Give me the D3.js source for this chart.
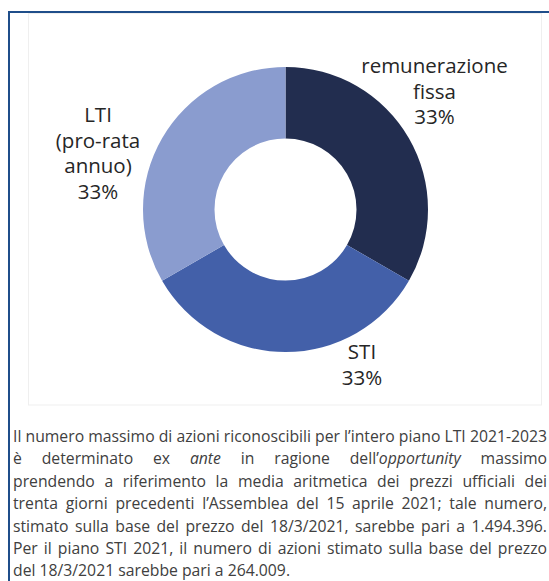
<!DOCTYPE html>
<html>
<head>
<meta charset="utf-8">
<script src="https://cdn.jsdelivr.net/npm/d3@7"></script>
<style>
  html, body { margin: 0; padding: 0; background: #fff; overflow: hidden; }
  svg { display: block; }
</style>
</head>
<body>
<div id="chart"></div>
<script>
// Composition of pay: three equal slices
const categories = ["remunerazione fissa", "STI", "LTI (pro-rata annuo)"];
const values = [33, 33, 33];
const labelLines = [["remunerazione", "fissa"], ["STI"], ["LTI", "(pro-rata", "annuo)"]];
const sliceColors = ["#222d4f", "#4360a9", "#8a9ccf"];

// Note under the chart, one entry per printed line (_x_ = italic)
const noteLines = [
  "Il numero massimo di azioni riconoscibili per l’intero piano LTI 2021-2023",
  "è determinato ex _ante_ in ragione dell’_opportunity_ massimo",
  "prendendo a riferimento la media aritmetica dei prezzi ufficiali dei",
  "trenta giorni precedenti l’Assemblea del 15 aprile 2021; tale numero,",
  "stimato sulla base del prezzo del 18/3/2021, sarebbe pari a 1.494.396.",
  "Per il piano STI 2021, il numero di azioni stimato sulla base del prezzo",
  "del 18/3/2021 sarebbe pari a 264.009."
];

const W = 549, H = 581;
const FONT = "'Open Sans', 'DejaVu Sans', sans-serif";
const cx = 285.5, cy = 209.5, rOuter = 142.5, rInner = 71;

// label anchor: centre x and first baseline, per slice
const labelPos = [[434.5, 73], [362, 359], [98, 122]];
const labelLH = 25.5;

const svg = d3.select("#chart").append("svg")
  .attr("width", W).attr("height", H)
  .attr("font-family", FONT);

// faint chart-area frame
svg.append("rect")
  .attr("x", 28.5).attr("y", 13.5).attr("width", 513).attr("height", 391.5)
  .attr("fill", "none").attr("stroke", "#efefef").attr("stroke-width", 1);

// blue box border (top and left)
svg.append("path")
  .attr("d", `M9,${H} V12 H${W}`)
  .attr("fill", "none").attr("stroke", "#1f4e8a").attr("stroke-width", 2);

const pie = d3.pie().sort(null).value(d => d).startAngle(0).endAngle(2 * Math.PI);
const arc = d3.arc().innerRadius(rInner).outerRadius(rOuter);

const g = svg.append("g").attr("transform", `translate(${cx},${cy})`);
g.selectAll("path.slice").data(pie(values)).join("path")
  .attr("class", "slice")
  .attr("d", arc)
  .attr("fill", (d, i) => sliceColors[i]);

// data labels
const fmt = v => `${v}%`;
values.forEach((v, i) => {
  const [lx, ly] = labelPos[i];
  const t = svg.append("text")
    .attr("text-anchor", "middle")
    .attr("font-size", 20.5)
    .attr("fill", "#262626");
  labelLines[i].concat([fmt(v)]).forEach((line, j) => {
    t.append("tspan").attr("x", lx).attr("y", ly + j * labelLH).text(line);
  });
});

// note paragraph, justified word by word
const noteX = 13, noteRight = 547, noteTop = 442, noteLH = 22.4;
const noteG = svg.append("g").attr("fill", "#404040");

function addWord(parent, word, x, y, size) {
  const t = parent.append("text").attr("x", x).attr("y", y).attr("font-size", size);
  word.split("_").forEach((part, k) => {
    if (!part) return;
    t.append("tspan").attr("font-style", k % 2 ? "italic" : "normal").text(part);
  });
  return t;
}

function measure(word, size) {
  const t = addWord(noteG, word, -1000, -1000, size);
  const w = t.node().getComputedTextLength();
  t.remove();
  return w;
}

// pick a size so the last (unjustified) line is as long as in the original
const baseSize = 15;
const lastW = measure(noteLines[noteLines.length - 1], baseSize);
let noteSize = Math.min(16, baseSize * 279 / lastW);
// never let a justified line run past the right edge
const widest = d3.max(noteLines.slice(0, -1), l => measure(l, noteSize));
if (widest > noteRight - noteX) noteSize *= (noteRight - noteX) / widest;

noteLines.forEach((line, i) => {
  const y = noteTop + i * noteLH;
  if (i === noteLines.length - 1) {
    addWord(noteG, line, noteX, y, noteSize);
    return;
  }
  const words = line.split(" ");
  const widths = words.map(w => measure(w, noteSize));
  const total = d3.sum(widths);
  const gap = (noteRight - noteX - total) / (words.length - 1);
  let x = noteX;
  words.forEach((w, k) => {
    addWord(noteG, w, x, y, noteSize);
    x += widths[k] + gap;
  });
});
</script>
</body>
</html>
